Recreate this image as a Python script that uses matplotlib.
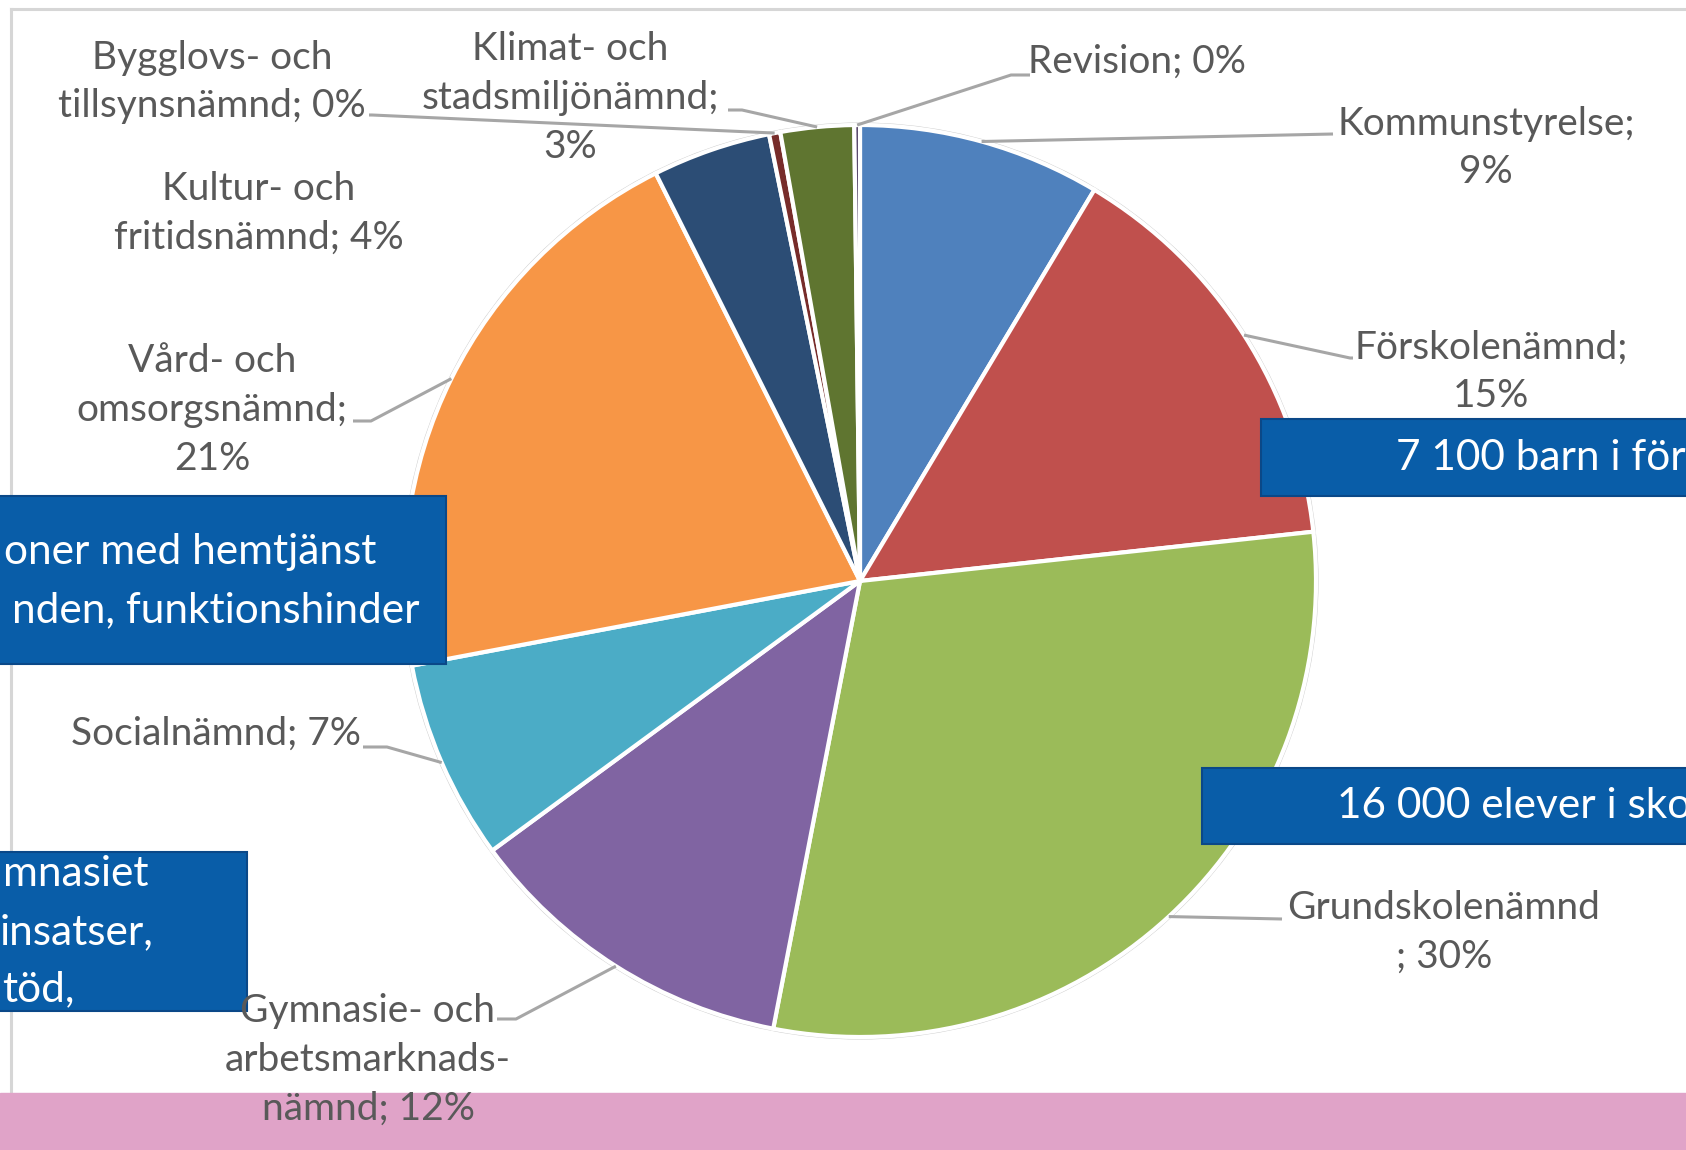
import numpy as np
import matplotlib.pyplot as plt
from matplotlib.patches import Rectangle, Circle

plt.rcParams['font.family'] = ['Lato', 'DejaVu Sans']

# Slices, clockwise from the top
names = ['Kommunstyrelse', 'Förskolenämnd', 'Grundskolenämnd',
         'Gymnasie- och\narbetsmarknads-\nnämnd', 'Socialnämnd',
         'Vård- och\nomsorgsnämnd', 'Kultur- och\nfritidsnämnd',
         'Bygglovs- och\ntillsynsnämnd', 'Klimat- och\nstadsmiljönämnd', 'Revision']
values = [8.6, 14.7, 29.8, 11.9, 7.1, 20.6, 4.2, 0.4, 2.6, 0.2]
seps = [';\n', ';\n', '\n; ', '; ', '; ', ';\n', '; ', '; ', ';\n', '; ']
colors = ['#4F81BD', '#C0504D', '#9BBB59', '#8064A2', '#4BACC6',
          '#F79646', '#2C4D75', '#772C2A', '#5F7530', '#4D3B62']

W, H = 1686, 1150


def Y(y):
    return H - y


# label centres and leader line bends (pixels from top left)
label_pos = [(1486, 148), (1491, 372), (1444, 932), (368, 1060), (216, 734),
             (212, 410), (259, 213), (212, 82), (570, 98), (1137, 62)]
leaders = [[(1333, 134)],
           [(1350, 358), (1353, 358)],
           [(1282, 919)],
           [(516, 1019), (497, 1019)],
           [(387, 747), (363, 747)],
           [(371, 421), (353, 421)],
           None,
           [(372, 115), (369, 115)],
           [(742, 110), (728, 110)],
           [(1011, 75), (1030, 75)]]

fig = plt.figure(figsize=(W / 100, H / 100), dpi=100)
ax = fig.add_axes([0, 0, 1, 1])

cx, cy, r = 860, 581, 456
wedges, _ = ax.pie(values, colors=colors, startangle=90, counterclock=False,
                   center=(cx, Y(cy)), radius=r,
                   wedgeprops=dict(edgecolor='white', linewidth=3))
for w in wedges:
    w.set_zorder(2)
ax.add_patch(Circle((cx, Y(cy)), r + 2, fill=False, ec='#D0D0D0', lw=0.8, zorder=1.5))
ax.set_xlim(0, W)
ax.set_ylim(0, H)
ax.set_aspect('equal')
ax.axis('off')

# chart area frame
ax.plot([11, W], [Y(9), Y(9)], color='#D6D6D6', lw=2.2, zorder=1)
ax.plot([11, 11], [Y(9), 0], color='#D6D6D6', lw=2.2, zorder=1)

# pink band at the bottom
ax.add_patch(Rectangle((0, 0), W, H - 1093, color='#E0A3C8', zorder=1))

total = sum(values)
for i, w in enumerate(wedges):
    pct = values[i] / total * 100
    txt = names[i] + seps[i] + f'{pct:.0f}%'
    x, y = label_pos[i]
    ax.text(x, Y(y), txt, ha='center', va='center', fontsize=28,
            color='#595959', linespacing=1.44, zorder=6)
    if leaders[i] is None:
        continue
    mid = np.deg2rad((w.theta1 + w.theta2) / 2)
    xs = [cx + r * np.cos(mid)] + [p[0] for p in leaders[i]]
    ys = [Y(cy) + r * np.sin(mid)] + [Y(p[1]) for p in leaders[i]]
    ax.plot(xs, ys, color='#A6A6A6', lw=2.2, zorder=5, solid_capstyle='butt')

# blue info boxes
box_fc = '#095DA8'
box_ec = '#0A4888'
boxes = [(-10, 496, 446, 664), (-10, 852, 247, 1011),
         (1261, 419, W + 10, 496), (1202, 768, W + 10, 844)]
for x0, y0, x1, y1 in boxes:
    ax.add_patch(Rectangle((x0, Y(y1)), x1 - x0, y1 - y0, fc=box_fc, ec=box_ec,
                           lw=1.5, zorder=4))

bt = dict(color='white', fontsize=30.5, va='center', zorder=4.5)
ax.text(376, Y(552), 'oner med hemtjänst', ha='right', **bt)
ax.text(419, Y(610), 'nden, funktionshinder', ha='right', **bt)
ax.text(148, Y(874), 'mnasiet', ha='right', **bt)
ax.text(154, Y(932), 'insatser,', ha='right', **bt)
ax.text(75, Y(989), 'töd,', ha='right', **bt)
ax.text(1396, Y(458), '7 100 barn i förskola', ha='left', **bt)
ax.text(1337, Y(806), '16 000 elever i skola', ha='left', **bt)

fig.savefig('out.png', dpi=100)
